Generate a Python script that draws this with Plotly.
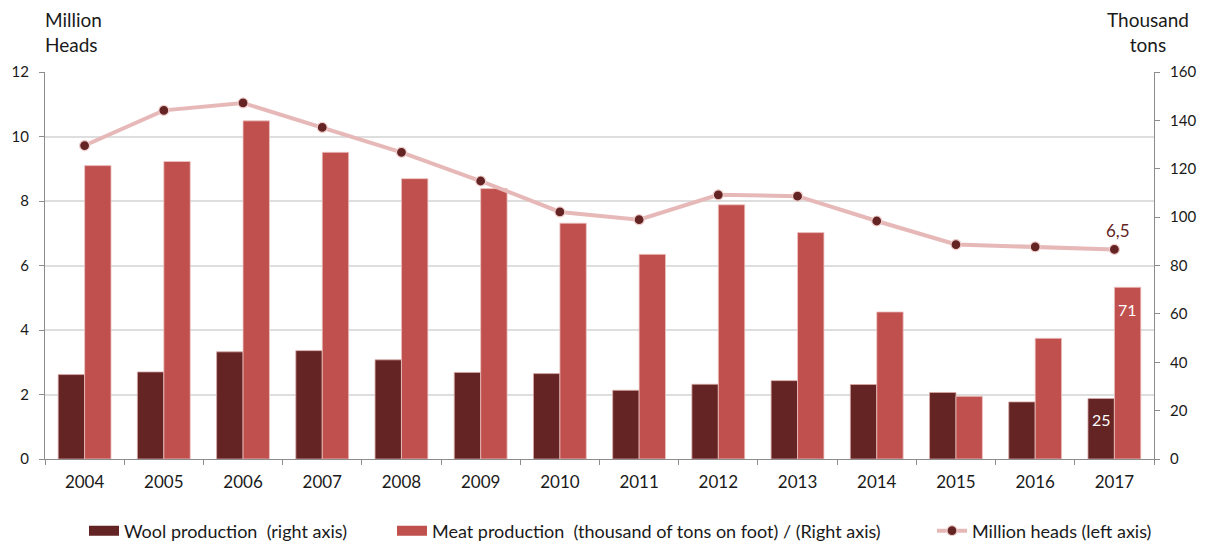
import plotly.graph_objects as go

years = ["2004", "2005", "2006", "2007", "2008", "2009", "2010",
         "2011", "2012", "2013", "2014", "2015", "2016", "2017"]

# Wool production, thousand tons (right axis)
wool = [34.9, 36.0, 44.3, 44.8, 41.0, 35.8, 35.3,
        28.4, 30.9, 32.4, 30.8, 27.5, 23.6, 25]

# Meat production, thousand tons on foot (right axis)
meat = [121.3, 123.0, 139.8, 126.8, 115.9, 111.8, 97.5,
        84.6, 105.1, 93.6, 60.8, 25.9, 49.9, 71]

# Herd size, million heads (left axis)
heads = [9.72, 10.81, 11.04, 10.28, 9.51, 8.62, 7.66,
         7.42, 8.19, 8.15, 7.38, 6.65, 6.58, 6.5]

left_ticks = [0, 2, 4, 6, 8, 10, 12]
right_ticks = [0, 20, 40, 60, 80, 100, 120, 140, 160]

WOOL_NAME = "Wool production  (right axis)"
MEAT_NAME = "Meat production  (thousand of tons on foot) / (Right axis)"
HEADS_NAME = "Million heads (left axis)"

FONT = "Lato"
TEXT = "#1a1a1a"
WOOL_C = "#632423"
MEAT_C = "#C0504D"
LINE_C = "#E6B9B8"
AXIS_C = "#8c8c8c"
GRID_C = "#dedede"

BARGAP = 0.333
HALF = (1 - BARGAP) / 4  # offset of each bar centre from the category centre

fig = go.Figure()

fig.add_trace(go.Bar(
    x=years, y=wool, name=WOOL_NAME, showlegend=False,
    marker=dict(color=WOOL_C, line=dict(color="#d9a8a6", width=0.8)),
    yaxis="y",
))
fig.add_trace(go.Bar(
    x=years, y=meat, name=MEAT_NAME, showlegend=False,
    marker=dict(color=MEAT_C, line=dict(color="#ecc4c3", width=0.8)),
    yaxis="y",
))
fig.add_trace(go.Scatter(
    x=years, y=heads, name=HEADS_NAME, legend="legend3",
    mode="lines+markers",
    line=dict(color=LINE_C, width=4),
    marker=dict(color=WOOL_C, size=10, line=dict(color="#f0cfce", width=1.2)),
    yaxis="y2",
))

# Wide rectangular swatches for the two bar series in their legends
fig.add_trace(go.Scatter(x=[None], y=[None], mode="lines", name=WOOL_NAME,
                         line=dict(color=WOOL_C, width=10), legend="legend",
                         hoverinfo="skip"))
fig.add_trace(go.Scatter(x=[None], y=[None], mode="lines", name=MEAT_NAME,
                         line=dict(color=MEAT_C, width=10), legend="legend2",
                         hoverinfo="skip"))

# Value labels for the last year (x given as category index)
last = len(years) - 1
fig.add_annotation(x=last, xref="x", y=heads[last], yref="y2",
                   text=f"{heads[last]:.1f}".replace(".", ","),
                   showarrow=False, yshift=19, xshift=4,
                   font=dict(family=FONT, size=17, color=WOOL_C))
fig.add_annotation(x=last + HALF, xref="x", y=meat[last], yref="y",
                   text=f"{meat[last]:.0f}", showarrow=False, yshift=-22,
                   font=dict(family=FONT, size=16, color="white"))
fig.add_annotation(x=last - HALF, xref="x", y=wool[last], yref="y",
                   text=f"{wool[last]:.0f}", showarrow=False, yshift=-21,
                   font=dict(family=FONT, size=16, color="white"))

# Axis titles
fig.add_annotation(x=0.026, xref="paper", y=1.0, yref="paper", yanchor="bottom",
                   yshift=14, text="Million<br>Heads", showarrow=False, align="left",
                   xanchor="center", font=dict(family=FONT, size=19, color=TEXT))
fig.add_annotation(x=0.995, xref="paper", y=1.0, yref="paper", yanchor="bottom",
                   yshift=14, text="Thousand<br>tons", showarrow=False, align="center",
                   xanchor="center", font=dict(family=FONT, size=19, color=TEXT))

legend_common = dict(orientation="h", xref="container", yref="container",
                     xanchor="left", y=0.024, yanchor="middle",
                     font=dict(family=FONT, size=18, color=TEXT),
                     itemwidth=30, bgcolor="rgba(0,0,0,0)")

fig.update_layout(
    width=1208, height=544,
    margin=dict(l=42, r=53, t=72, b=85),
    paper_bgcolor="white", plot_bgcolor="white",
    barmode="group", bargap=BARGAP, bargroupgap=0,
    font=dict(family=FONT, size=15, color=TEXT),
    showlegend=True,
    legend=dict(x=84 / 1208, **legend_common),
    legend2=dict(x=392 / 1208, **legend_common),
    legend3=dict(x=932 / 1208, **legend_common),
    xaxis=dict(
        type="category", range=[-0.5, last + 0.5], autorange=False,
        showgrid=False, showline=True, linecolor=AXIS_C, linewidth=1,
        ticks="outside", tickson="boundaries", ticklen=5, tickcolor=AXIS_C,
        tickfont=dict(family=FONT, size=17, color=TEXT), tickangle=0,
        ticklabelstandoff=8,
    ),
    yaxis=dict(
        side="right", range=[0, 160], tickvals=right_ticks, showgrid=False,
        showline=True, linecolor=AXIS_C, linewidth=1, ticks="outside", ticklen=5,
        tickcolor=AXIS_C, zeroline=False, ticklabelstandoff=7,
        tickfont=dict(family=FONT, size=15, color=TEXT),
    ),
    yaxis2=dict(
        overlaying="y", side="left", range=[0, 12], tickvals=left_ticks,
        showgrid=True, gridcolor=GRID_C, gridwidth=1.5,
        showline=True, linecolor=AXIS_C, linewidth=1, ticks="outside", ticklen=5,
        tickcolor=AXIS_C, zeroline=False, ticklabelstandoff=7,
        tickfont=dict(family=FONT, size=15, color=TEXT),
    ),
)

fig.write_html("out.html")
